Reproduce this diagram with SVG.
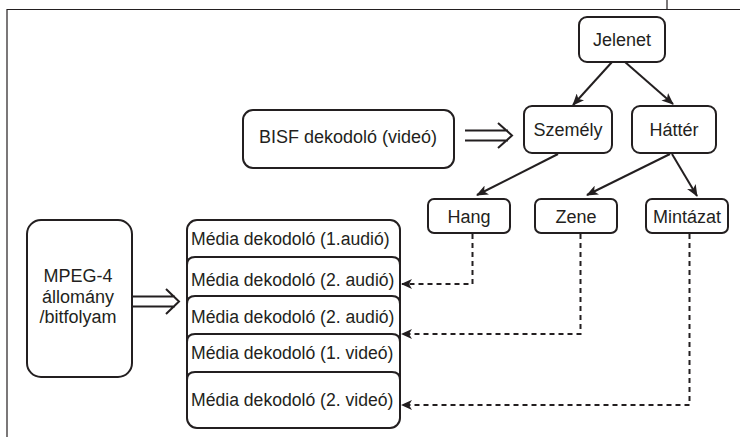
<svg xmlns="http://www.w3.org/2000/svg" width="740" height="437" viewBox="0 0 740 437">
<defs>
<style>
.box{fill:#fff;stroke:#231f20;stroke-width:2}
.t{font-family:"Liberation Sans",Arial,sans-serif;font-size:18px;fill:#231f20;text-anchor:middle}
.tl{font-family:"Liberation Sans",Arial,sans-serif;font-size:17.6px;fill:#231f20}
.ln{fill:none;stroke:#231f20;stroke-width:2}
.dash{fill:none;stroke:#231f20;stroke-width:2;stroke-dasharray:5 4}
.frame{fill:none;stroke:#231f20;stroke-width:1.2}
</style>
<marker id="ah" viewBox="0 0 12 10" refX="11" refY="5" markerWidth="12" markerHeight="10" markerUnits="userSpaceOnUse" orient="auto">
<path d="M0,0 L12,5 L0,10 L3,5 Z" fill="#231f20"/>
</marker>
<marker id="ahd" viewBox="0 0 11 10" refX="10" refY="5" markerWidth="11" markerHeight="10" markerUnits="userSpaceOnUse" orient="auto">
<path d="M0,0 L11,5 L0,10 L3,5 Z" fill="#231f20"/>
</marker>
</defs>
<rect width="740" height="437" fill="#fff"/>
<g id="frame">
<path class="frame" d="M7,437 V9.5 H740 M667,0 V9.5"/>
</g>
<g id="jelenet"><rect class="box" x="579" y="17" width="86" height="45" rx="8"/><text class="t" x="622" y="46">Jelenet</text></g>
<g id="szemely"><rect class="box" x="524" y="106" width="88" height="47" rx="8"/><text class="t" x="568" y="136">Személy</text></g>
<g id="hatter"><rect class="box" x="632" y="106" width="84" height="47" rx="8"/><text class="t" x="674" y="136">Háttér</text></g>
<g id="bisf"><rect class="box" x="243" y="110" width="211" height="58" rx="10"/><text class="t" x="348" y="143">BISF dekodoló (videó)</text></g>
<g id="hang"><rect class="box" x="428" y="199" width="82" height="34" rx="6"/><text class="t" x="469" y="222.5">Hang</text></g>
<g id="zene"><rect class="box" x="535" y="199" width="82" height="34" rx="6"/><text class="t" x="576" y="222.5">Zene</text></g>
<g id="mintazat"><rect class="box" x="646" y="199" width="82" height="34" rx="6"/><text class="t" x="687" y="222.5">Mintázat</text></g>
<g id="mpeg"><rect class="box" x="27" y="220" width="105" height="157" rx="14"/>
<text class="t" x="78" y="282">MPEG-4</text><text class="t" x="78" y="303">állomány</text><text class="t" x="78" y="323">/bitfolyam</text></g>
<g id="media">
<rect class="box" x="187" y="220" width="213" height="208" rx="10"/>
<path class="ln" d="M187,265 Q187,257 195,257 H392 Q400,257 400,265"/>
<path class="ln" d="M187,304 Q187,296 195,296 H392 Q400,296 400,304"/>
<path class="ln" d="M187,342 Q187,334 195,334 H392 Q400,334 400,342"/>
<path class="ln" d="M187,380 Q187,372 195,372 H392 Q400,372 400,380"/>
<text class="tl" x="191" y="245">Média dekodoló (1.audió)</text>
<text class="tl" x="191" y="286">Média dekodoló (2. audió)</text>
<text class="tl" x="191" y="323">Média dekodoló (2. audió)</text>
<text class="tl" x="191" y="359">Média dekodoló (1. videó)</text>
<text class="tl" x="191" y="406">Média dekodoló (2. videó)</text>
</g>
<g id="connectors">
<line class="ln" x1="612" y1="62" x2="573" y2="105" marker-end="url(#ah)"/>
<line class="ln" x1="625" y1="62" x2="673" y2="104" marker-end="url(#ah)"/>
<line class="ln" x1="558" y1="154" x2="477" y2="195" marker-end="url(#ah)"/>
<line class="ln" x1="670" y1="154" x2="587" y2="195" marker-end="url(#ah)"/>
<line class="ln" x1="672" y1="154" x2="697" y2="196" marker-end="url(#ah)"/>
<path class="ln" d="M465,130.5 H508 M465,140.5 H508 M498,123 L512,135.5 L498,148"/>
<path class="ln" d="M132,296.5 H175 M132,306.5 H175 M166,289 L179,301.5 L166,314"/>
<path class="dash" d="M472.5,234 V284 H402" marker-end="url(#ahd)"/>
<path class="dash" d="M580.5,234 V334 H402" marker-end="url(#ahd)"/>
<path class="dash" d="M689.5,234 V405 H402" marker-end="url(#ahd)"/>
</g>
</svg>
